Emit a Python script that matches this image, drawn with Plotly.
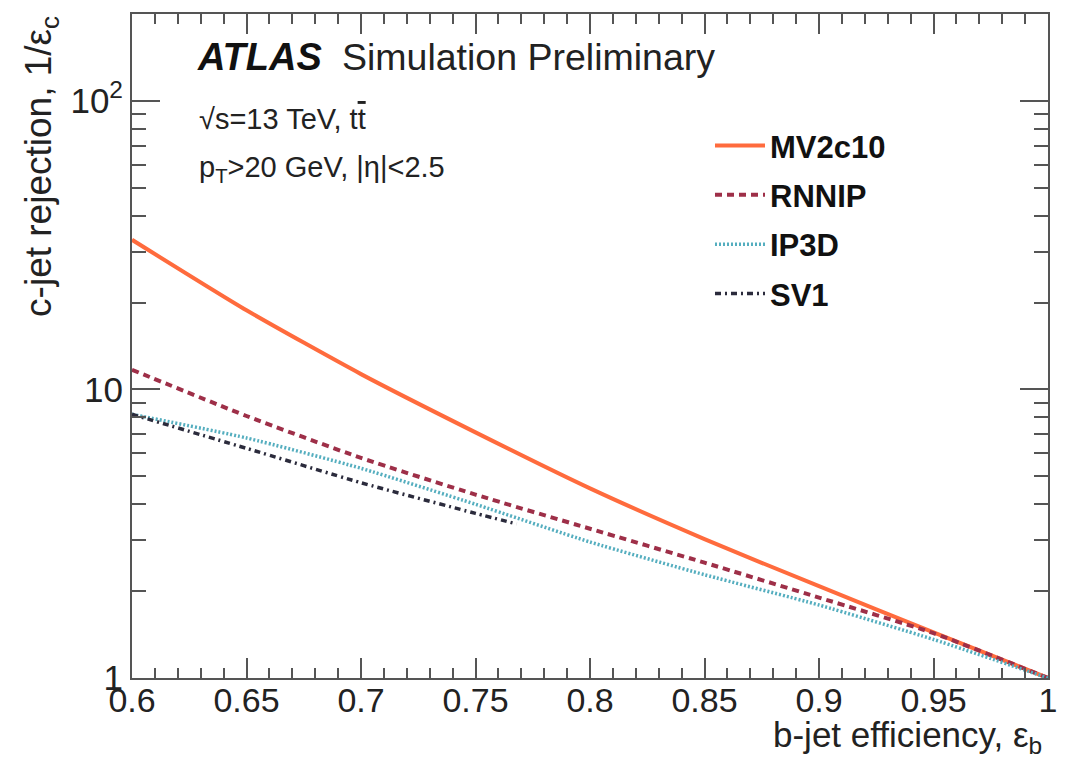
import plotly.graph_objects as go

# b-jet efficiency working points
eff_b = [0.60, 0.65, 0.70, 0.75, 0.80, 0.85, 0.90, 0.95, 1.00]

# c-jet rejection (1/eps_c) per tagger
mv2c10 = [33.0, 18.8, 11.3, 7.1, 4.54, 3.03, 2.08, 1.44, 1.0]
rnnip = [11.7, 8.09, 5.79, 4.32, 3.29, 2.51, 1.90, 1.43, 1.0]
ip3d = [8.2, 6.79, 5.33, 4.0, 2.96, 2.28, 1.79, 1.36, 1.0]

# SV1 stops at its highest reachable efficiency
sv1_eff = [0.60, 0.65, 0.70, 0.75, 0.768]
sv1 = [8.2, 6.25, 4.75, 3.72, 3.42]

names = ["MV2c10", "RNNIP", "IP3D", "SV1"]
colors = ["#ff6b3d", "#9e2f48", "#55aebf", "#2b2b3c"]
dashes = ["solid", "7px,5px", "2px,2px", "6px,4px,2px,4px"]
widths = [4, 4, 3.5, 3.5]

FONT = "Liberation Sans, Arial, sans-serif"

fig = go.Figure()
series = [(eff_b, mv2c10), (eff_b, rnnip), (eff_b, ip3d), (sv1_eff, sv1)]
for i, (xs, ys) in enumerate(series):
    fig.add_trace(go.Scatter(
        x=xs, y=ys, mode="lines", name=names[i], legendgroup=names[i],
        line=dict(color=colors[i], dash=dashes[i], width=widths[i], shape="spline", smoothing=0.6),
    ))

x_minor = [round(0.6 + 0.01 * k, 2) for k in range(41)]
y_minor = [m * d for d in (1, 10, 100) for m in range(2, 10)]
y_minor = [v for v in y_minor if v < 200]

fig.update_xaxes(
    range=[0.6, 1.0], tickmode="array",
    tickvals=[0.6, 0.65, 0.7, 0.75, 0.8, 0.85, 0.9, 0.95, 1.0],
    ticktext=["0.6", "0.65", "0.7", "0.75", "0.8", "0.85", "0.9", "0.95", "1"],
    ticks="inside", ticklen=20, tickwidth=1.5, tickcolor="#555",
    minor=dict(tickvals=x_minor, ticks="inside", ticklen=10, tickwidth=1.5, tickcolor="#555"),
    showline=True, linecolor="#555", linewidth=2, mirror="ticks",
    showgrid=False, zeroline=False, ticklabelstandoff=-9,
    tickfont=dict(family=FONT, size=34, color="#222"),
)
fig.update_yaxes(
    type="log", range=[0, 2.301], tickmode="array",
    tickvals=[1, 10, 100], ticktext=["1", "10", "10<sup>2</sup>"],
    ticks="inside", ticklen=28, tickwidth=1.5, tickcolor="#555",
    minor=dict(tickvals=y_minor, ticks="inside", ticklen=14, tickwidth=1.5, tickcolor="#555"),
    showline=True, linecolor="#555", linewidth=2, mirror="ticks",
    showgrid=False, zeroline=False,
    tickfont=dict(family=FONT, size=35, color="#222"),
)

fig.update_layout(
    width=1069, height=761,
    margin=dict(l=132, r=16, t=13, b=83),
    paper_bgcolor="white", plot_bgcolor="white",
    showlegend=True,
    legend=dict(
        x=0.631, y=0.842, xanchor="left", yanchor="top",
        bgcolor="rgba(0,0,0,0)", borderwidth=0,
        font=dict(family=FONT, size=31, color="#111", weight="bold"),
        tracegroupgap=6, itemwidth=50,
    ),
    annotations=[
        dict(text="<b><i>ATLAS</i></b>", x=0.069, y=0.935, xref="paper", yref="paper",
             xanchor="left", yanchor="middle", showarrow=False,
             font=dict(family=FONT, size=38, color="#111")),
        dict(text="Simulation Preliminary", x=0.227, y=0.935, xref="paper", yref="paper",
             xanchor="left", yanchor="middle", showarrow=False,
             font=dict(family=FONT, size=37.5, color="#222")),
        dict(text="√s=13 TeV, t<span style='text-decoration:overline'>t</span>",
             x=0.071, y=0.842, xref="paper", yref="paper",
             xanchor="left", yanchor="middle", showarrow=False,
             font=dict(family=FONT, size=29, color="#222")),
        dict(text="p<sub>T</sub>>20 GeV, |η|<2.5",
             x=0.071, y=0.767, xref="paper", yref="paper",
             xanchor="left", yanchor="middle", showarrow=False,
             font=dict(family=FONT, size=29, color="#222")),
        dict(text="b-jet efficiency, ε<sub>b</sub>", x=0.996, y=-0.089,
             xref="paper", yref="paper", xanchor="right", yanchor="middle",
             showarrow=False, font=dict(family=FONT, size=35, color="#222")),
        dict(text="c-jet rejection, 1/ε<sub>c</sub>", x=-0.1, y=1.0,
             xref="paper", yref="paper", xanchor="center", yanchor="top",
             textangle=-90, showarrow=False,
             font=dict(family=FONT, size=37, color="#222")),
    ],
)

fig.write_html("out.html")
